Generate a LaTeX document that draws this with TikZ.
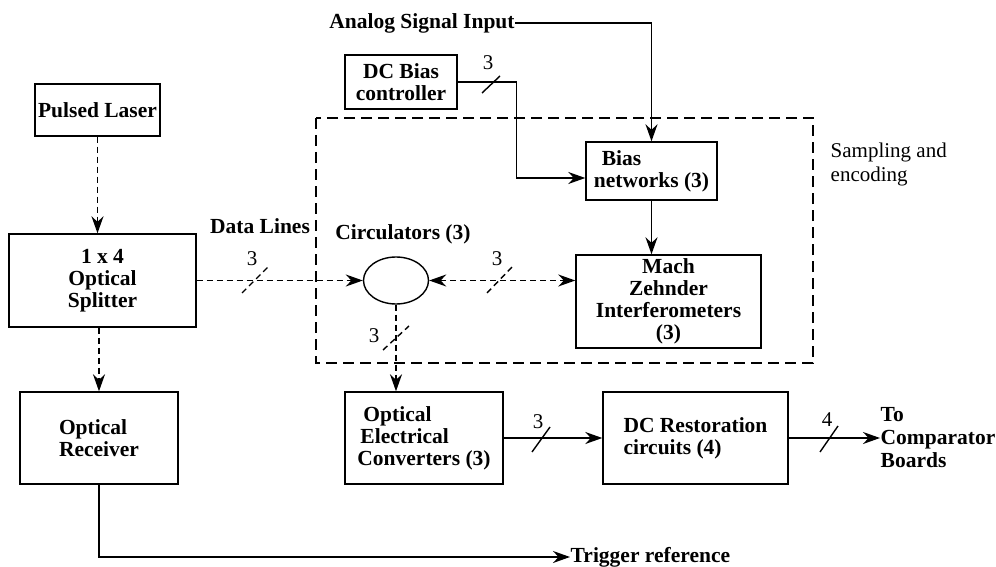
\documentclass[tikz,border=0pt]{standalone}
\usepackage{fontspec}
\setmainfont{Liberation Serif}
\usetikzlibrary{arrows.meta,shapes.geometric}

\begin{document}
\begin{tikzpicture}[x=1pt,y=-1pt,
    line width=1.4pt,
    >={Stealth[length=17pt,width=12pt]},
    block/.style={draw, rectangle, inner sep=2pt, font=\fontsize{21.5}{22}\selectfont\bfseries},
    lbl/.style={inner sep=0pt, font=\fontsize{21.5}{22}\selectfont\bfseries},
    busnum/.style={inner sep=0pt, font=\fontsize{21}{21}\selectfont},
    optic/.style={dash pattern=on 6pt off 4pt}]
    \useasboundingbox (0,0) rectangle (996,567);

    % Sampling and encoding region
    \draw[dash pattern=on 11pt off 6pt] (316,118) rectangle (813,363);
    \node[busnum, anchor=west, align=left, font=\fontsize{21}{24}\selectfont] (samp) at (830,164) {Sampling and\\encoding};

    % Blocks
    \node[block, minimum width=125pt, minimum height=52pt] (laser) at (97.5,110) {Pulsed Laser};
    \node[block, minimum width=187pt, minimum height=93pt, align=center] (split) at (102.5,280.5) {1 x 4\\Optical\\Splitter};
    \node[block, minimum width=158pt, minimum height=92pt, align=left] (recv) at (99,438) {Optical\\Receiver};
    \node[block, minimum width=112pt, minimum height=54pt, align=center] (dcbias) at (401,82) {DC Bias\\controller};
    \node[block, minimum width=131pt, minimum height=58pt, align=left] (bias) at (651.5,171) {\hspace{8pt}Bias\\networks (3)};
    \node[block, minimum width=185pt, minimum height=93pt, align=center] (mzi) at (668.5,301.5) {Mach\\Zehnder\\Interferometers\\(3)};
    \node[draw, ellipse, minimum width=65pt, minimum height=47pt, inner sep=0pt] (circ) at (396,280.5) {};
    \node[block, minimum width=158pt, minimum height=92pt, align=left] (oe) at (424,438) {\hspace{6pt}Optical\\\hspace{3pt}Electrical\\Converters (3)};
    \node[block, minimum width=185pt, minimum height=92pt, align=left] (dcr) at (695.5,438) {DC Restoration\\circuits (4)};

    % Free labels
    \node[lbl] (analog) at (422,23) {Analog Signal Input};
    \node[lbl] (data) at (260,226) {Data Lines};
    \node[lbl] (circlbl) at (403,234) {Circulators (3)};
    \node[lbl, anchor=west, align=left, font=\fontsize{21.5}{23}\selectfont\bfseries] (tocomp) at (880,438) {To\\Comparator\\Boards};
    \node[lbl, anchor=west] (trig) at (570,557) {Trigger reference};

    % Optical paths (dashed)
    \draw[optic, ->] (laser.south) -- (laser.south |- split.north);
    \draw[optic, ->] (recv.north |- split.south) -- (recv.north);
    \draw[optic, ->] (split.east |- circ.west) -- (circ.west);
    \draw[optic, <->] (circ.east) -- (circ.east -| mzi.west);
    \draw[optic, ->] (circ.south) -- (circ.south |- oe.north);

    % Electrical paths
    \draw[->] (analog.east) -| (bias.north);
    \draw[->] (dcbias.east) -| ([xshift=-69pt,yshift=-7pt]bias.west) -- ([yshift=-7pt]bias.west);
    \draw[->] (bias.south) -- (bias.south |- mzi.north);
    \draw[->] (oe.east) -- (dcr.west);
    \draw[->] (dcr.east) -- (tocomp.west);
    \draw[->] (recv.south) |- (trig.west);

    % Bus marks
    \draw[optic] (242,293) -- (268,267);
    \node[busnum] (n1) at (252,259) {3};
    \draw[optic] (487,293) -- (512,267);
    \node[busnum] (n2) at (497,259) {3};
    \draw[optic] (383,350) -- (409,326);
    \node[busnum] (n3) at (374,336) {3};
    \draw (482,93) -- (500,76);
    \node[busnum] (n4) at (488,63) {3};
    \draw (532,452) -- (550,427);
    \node[busnum] (n5) at (538,422) {3};
    \draw (820,452) -- (838,426);
    \node[busnum] (n6) at (827,420) {4};
\end{tikzpicture}
\end{document}
